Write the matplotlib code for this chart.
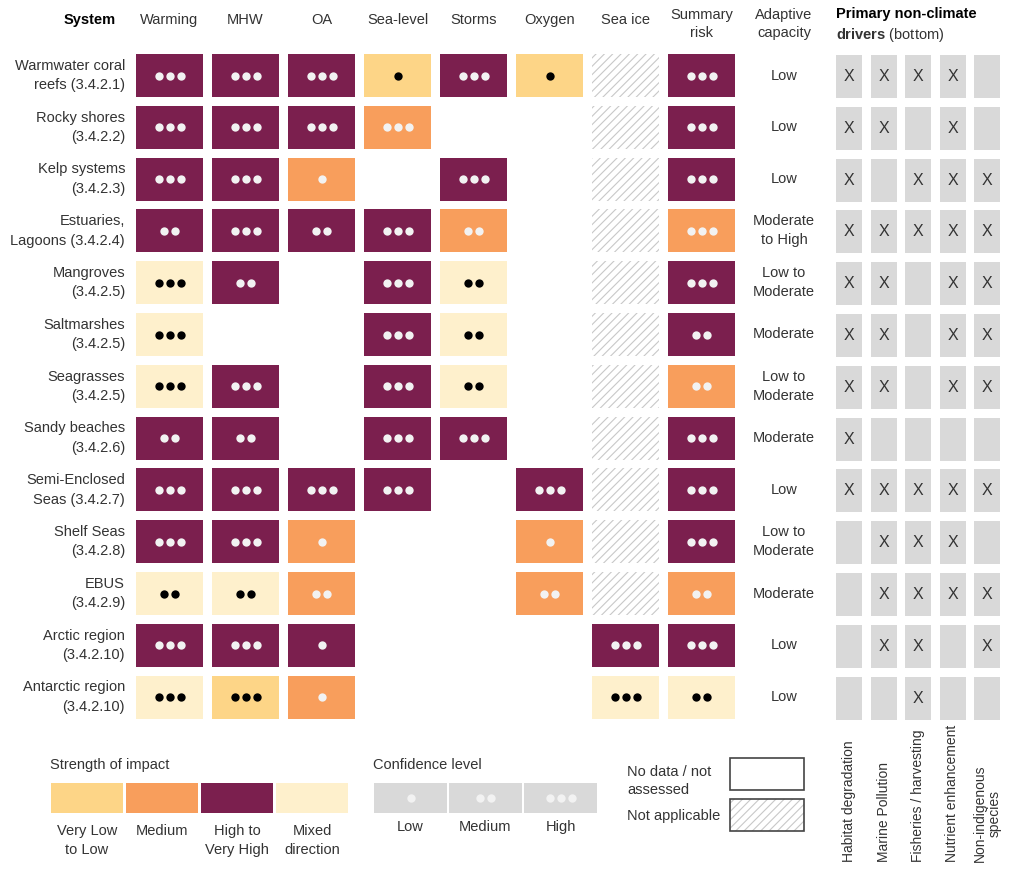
import matplotlib
matplotlib.use("Agg")
import matplotlib.pyplot as plt
from matplotlib.patches import Rectangle

plt.rcParams['font.family'] = ['Liberation Sans', 'DejaVu Sans']
plt.rcParams['mathtext.fontset'] = 'custom'
plt.rcParams['mathtext.bf'] = 'Liberation Sans:bold'
plt.rcParams['hatch.linewidth'] = 0.8

# data
systems = ["Warmwater coral\nreefs (3.4.2.1)", "Rocky shores\n(3.4.2.2)", "Kelp systems\n(3.4.2.3)",
           "Estuaries,\nLagoons (3.4.2.4)", "Mangroves\n(3.4.2.5)", "Saltmarshes\n(3.4.2.5)",
           "Seagrasses\n(3.4.2.5)", "Sandy beaches\n(3.4.2.6)", "Semi-Enclosed\nSeas (3.4.2.7)",
           "Shelf Seas\n(3.4.2.8)", "EBUS\n(3.4.2.9)", "Arctic region\n(3.4.2.10)",
           "Antarctic region\n(3.4.2.10)"]
hazards = ["Warming", "MHW", "OA", "Sea-level", "Storms", "Oxygen", "Sea ice", "Summary\nrisk"]
# H = high to very high, M = medium, L = very low to low, X = mixed direction; digit = confidence
impacts = [
    ["H3", "H3", "H3", "L1", "H3", "L1", "NA", "H3"],
    ["H3", "H3", "H3", "M3", "",   "",   "NA", "H3"],
    ["H3", "H3", "M1", "",   "H3", "",   "NA", "H3"],
    ["H2", "H3", "H2", "H3", "M2", "",   "NA", "M3"],
    ["X3", "H2", "",   "H3", "X2", "",   "NA", "H3"],
    ["X3", "",   "",   "H3", "X2", "",   "NA", "H2"],
    ["X3", "H3", "",   "H3", "X2", "",   "NA", "M2"],
    ["H2", "H2", "",   "H3", "H3", "",   "NA", "H3"],
    ["H3", "H3", "H3", "H3", "",   "H3", "NA", "H3"],
    ["H3", "H3", "M1", "",   "",   "M1", "NA", "H3"],
    ["X2", "X2", "M2", "",   "",   "M2", "NA", "M2"],
    ["H3", "H3", "H1", "",   "",   "",   "H3", "H3"],
    ["X3", "L3", "M1", "",   "",   "",   "X3", "X2"],
]
adaptive = ["Low", "Low", "Low", "Moderate\nto High", "Low to\nModerate", "Moderate",
            "Low to\nModerate", "Moderate", "Low", "Low to\nModerate", "Moderate", "Low", "Low"]
drivers = ["Habitat degradation", "Marine Pollution", "Fisheries / harvesting",
           "Nutrient enhancement", "Non-indigenous\nspecies"]
driver_marks = [
    [1, 1, 1, 1, 0], [1, 1, 0, 1, 0], [1, 0, 1, 1, 1], [1, 1, 1, 1, 1],
    [1, 1, 0, 1, 1], [1, 1, 0, 1, 1], [1, 1, 0, 1, 1], [1, 0, 0, 0, 0],
    [1, 1, 1, 1, 1], [0, 1, 1, 1, 0], [0, 1, 1, 1, 1], [0, 1, 1, 0, 1],
    [0, 0, 1, 0, 0],
]
strength_keys = ["L", "M", "H", "X"]
strength_labels = ["Very Low\nto Low", "Medium", "High to\nVery High", "Mixed\ndirection"]
confidence_labels = ["Low", "Medium", "High"]

colors = {"L": "#FDD587", "M": "#F89E5C", "H": "#7B1F4E", "X": "#FEF0CC"}
dot_colors = {"L": "black", "M": "#F2F2F2", "H": "#F2F2F2", "X": "black"}
grey = "#D9D9D9"
txt = "#333333"

fig = plt.figure(figsize=(10.13, 8.76), dpi=100)
ax = fig.add_axes([0, 0, 1, 1])
ax.set_xlim(0, 1013)
ax.set_ylim(876, 0)
ax.axis("off")

x0, dx, cw = 136, 76, 67       # impact columns
y0, dy, ch = 54, 51.8, 43      # rows
dxd, dd, dw = 836, 34.5, 26    # driver columns


def dots(cx, cy, n, color):
    for k in range(n):
        ax.plot(cx + (k - (n - 1) / 2) * 11, cy, "o", ms=6, color=color, mec="none")


# headers
ax.text(116, 20, "System", ha="right", va="center", fontsize=10.5, weight="bold", color="black")
for j, h in enumerate(hazards):
    ax.text(x0 + j * dx + cw / 2, 20 if "\n" not in h else 24, h, ha="center", va="center",
            fontsize=10.5, color=txt, linespacing=1.45)
ax.text(784, 24, "Adaptive\ncapacity", ha="center", va="center", fontsize=10.5, color=txt, linespacing=1.45)
ax.text(dxd, 14, "Primary non-climate", ha="left", va="center", fontsize=10.5, weight="bold", color="black")
ax.text(dxd, 35, r"$\bf{drivers}$ (bottom)", ha="left", va="center", fontsize=10.5, color=txt)

# body
for i, name in enumerate(systems):
    ytop = y0 + i * dy
    cy = ytop + ch / 2
    ax.text(125, cy, name, ha="right", va="center", fontsize=10.5, color=txt, linespacing=1.5)
    for j, cell in enumerate(impacts[i]):
        xl = x0 + j * dx
        if cell == "NA":
            ax.add_patch(Rectangle((xl, ytop), cw, ch, facecolor="white", edgecolor="#C8C8C8",
                                   hatch="////", linewidth=0))
        elif cell:
            s, n = cell[0], int(cell[1])
            ax.add_patch(Rectangle((xl, ytop), cw, ch, facecolor=colors[s], edgecolor="none"))
            dots(xl + cw / 2, cy, n, dot_colors[s])
    ax.text(784, cy, adaptive[i], ha="center", va="center", fontsize=10.5, color=txt, linespacing=1.45)
    for k, m in enumerate(driver_marks[i]):
        xl = dxd + k * dd
        ax.add_patch(Rectangle((xl, ytop + 1), dw, ch, facecolor=grey, edgecolor="none"))
        if m:
            ax.text(xl + dw / 2, cy + 1, "X", ha="center", va="center", fontsize=11.5, color=txt)

# driver labels (rotated)
for k, d in enumerate(drivers):
    ax.text(dxd + k * dd + dw / 2, 862, d, rotation=90, ha="center", va="bottom",
            fontsize=10, color=txt, linespacing=1.1, multialignment="center")

# strength legend
ax.text(50, 765, "Strength of impact", ha="left", va="center", fontsize=10.5, color=txt)
for k, (s, lab) in enumerate(zip(strength_keys, strength_labels)):
    xl = 51 + k * 75
    ax.add_patch(Rectangle((xl, 783), 72, 30, facecolor=colors[s], edgecolor="none"))
    ax.text(xl + 36, 824, lab, ha="center", va="top", fontsize=10.5, color=txt, linespacing=1.45)

# confidence legend
ax.text(373, 765, "Confidence level", ha="left", va="center", fontsize=10.5, color=txt)
for k, lab in enumerate(confidence_labels):
    xl = 374 + k * 75
    ax.add_patch(Rectangle((xl, 783), 73, 30, facecolor=grey, edgecolor="none"))
    dots(xl + 36.5, 798, k + 1, "#F2F2F2")
    ax.text(xl + 36.5, 827, lab, ha="center", va="center", fontsize=10.5, color=txt)

# no data / not applicable legend
ax.text(627, 781, "No data / not\nassessed", ha="left", va="center", fontsize=10.5, color=txt, linespacing=1.45)
ax.add_patch(Rectangle((730, 758), 74, 32, facecolor="white", edgecolor="#444444", linewidth=1.2))
ax.text(627, 816, "Not applicable", ha="left", va="center", fontsize=10.5, color=txt)
ax.add_patch(Rectangle((730, 799), 74, 32, facecolor="white", edgecolor="#C8C8C8",
                       hatch="////", linewidth=0))
ax.add_patch(Rectangle((730, 799), 74, 32, facecolor="none", edgecolor="#444444", linewidth=1.2))

fig.savefig("out.png", dpi=100)
